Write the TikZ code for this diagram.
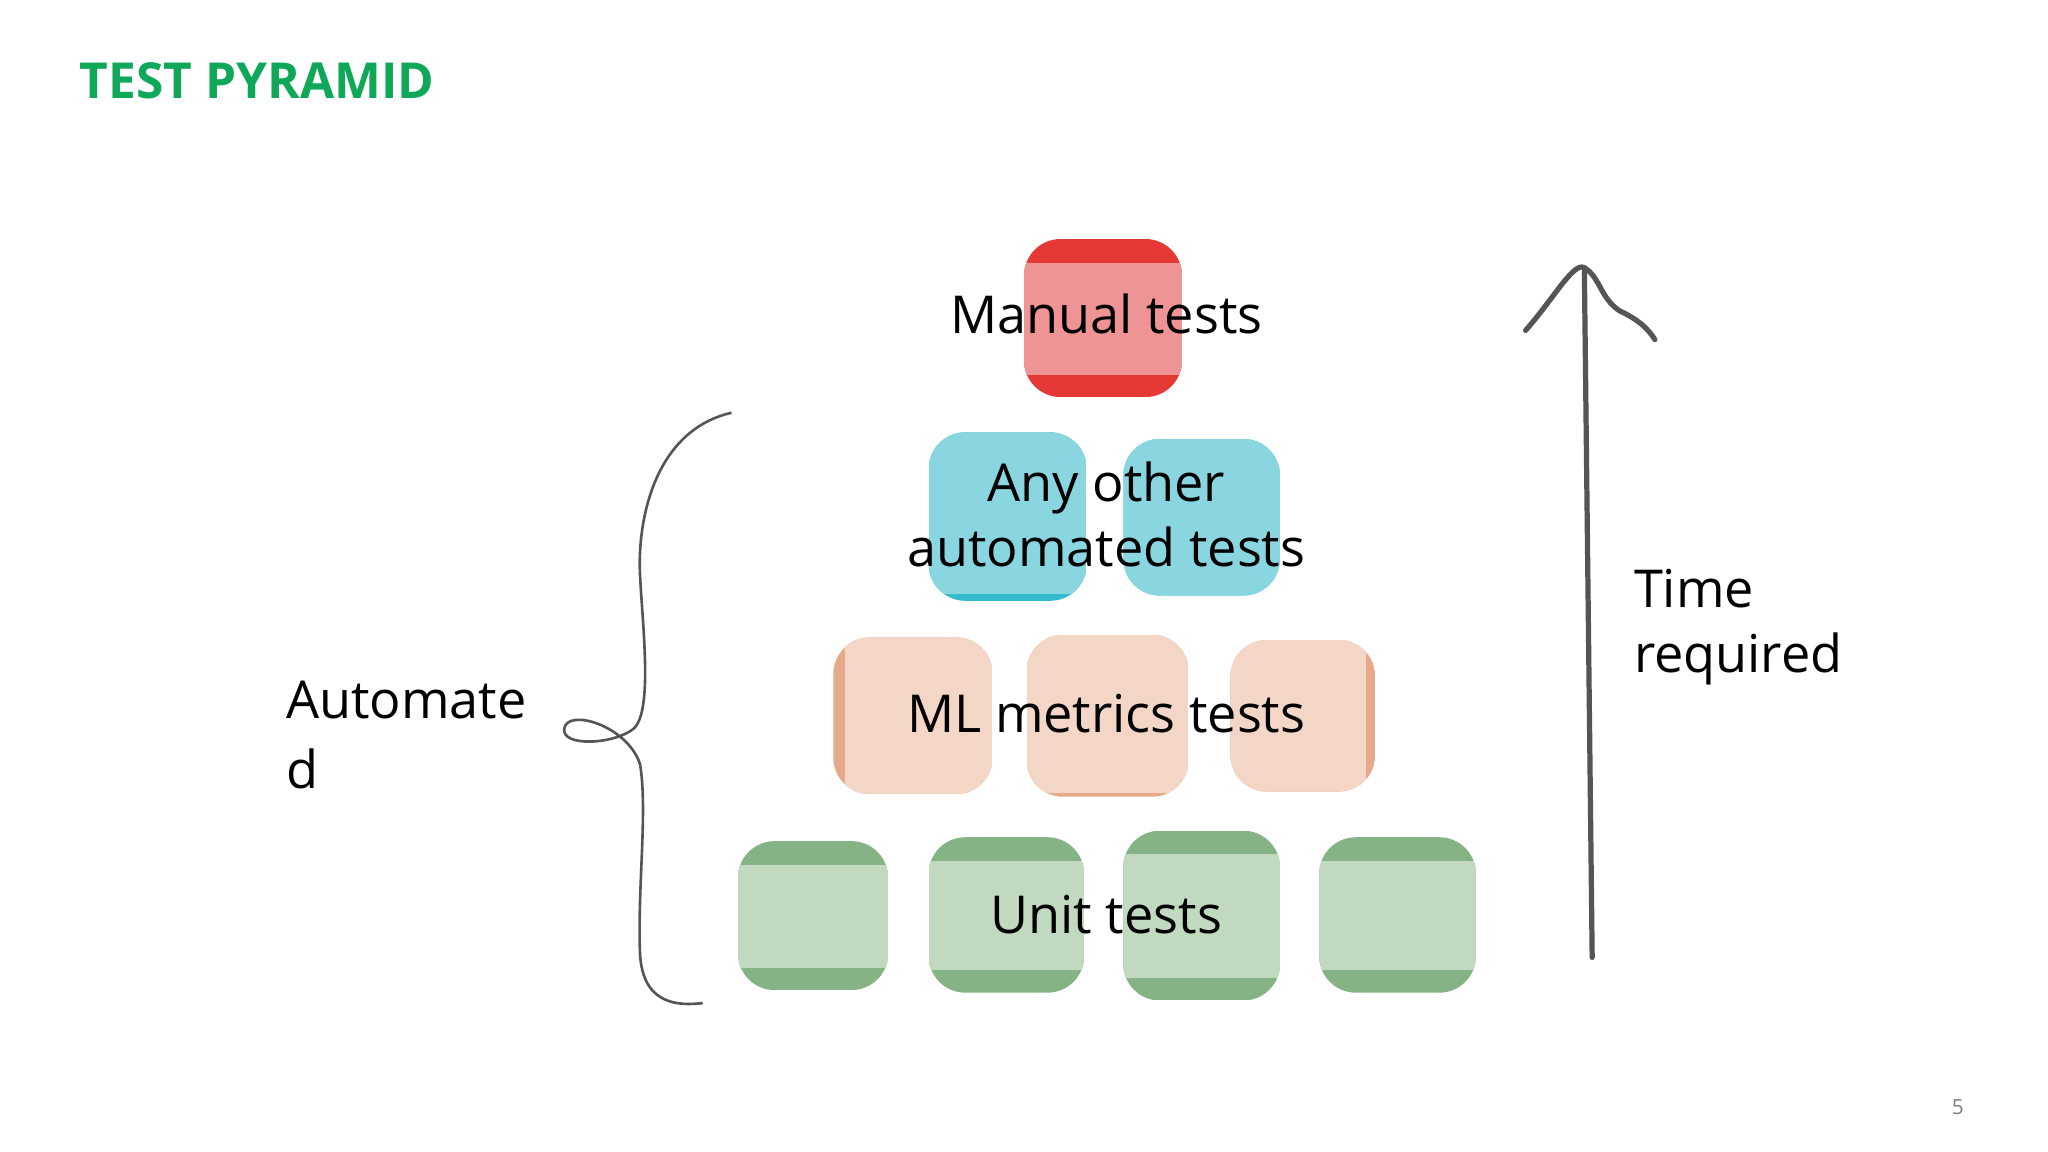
\documentclass[tikz,border=0pt]{standalone}
\usepackage{fontspec}
\setmainfont{Open Sans}
\usetikzlibrary{positioning}
\definecolor{titlegreen}{HTML}{0FA858}
\definecolor{reddark}{HTML}{E53935}
\definecolor{redlight}{HTML}{EE9494}
\definecolor{bluelight}{HTML}{8AD6E0}
\definecolor{bluedark}{HTML}{35BACB}
\definecolor{peachlight}{HTML}{F3D6C6}
\definecolor{peachdark}{HTML}{E6AA8A}
\definecolor{greendark}{HTML}{86B386}
\definecolor{greenlight}{HTML}{C0D9BF}
\definecolor{inkgray}{HTML}{555555}
\newcommand{\stickynote}[6]{% x1 y1 x2 y2 dark light, bands at top and bottom
  \begin{scope}
    \clip[rounded corners=14] (#1,#2) rectangle (#3,#4);
    \fill[#5] (#1,#2) rectangle (#3,#4);
    \fill[#6] (#1,{#2+18}) rectangle (#3,{#4-17});
  \end{scope}}
\newcommand{\plainnote}[7]{% x1 y1 x2 y2 edge fill, lighter part: left right bottom offsets
  \begin{scope}
    \clip[rounded corners=14] (#1,#2) rectangle (#3,#4);
    \fill[#5] (#1,#2) rectangle (#3,#4);
    \fill[#6] #7;
  \end{scope}}
\begin{document}
\begin{tikzpicture}[x=0.5pt,y=-0.5pt,
  label text/.style={font=\fontsize{20}{25}\selectfont,align=center,text=black},
  side text/.style={font=\fontsize{20}{25}\selectfont,align=left,anchor=west,text=black},
  hand line/.style={draw=inkgray,line width=2pt,line cap=round,line join=round}]
\useasboundingbox[fill=white] (0,0) rectangle (1568,882);
\node[anchor=west,font=\fontsize{19}{23}\selectfont\bfseries,text=titlegreen] (title) at (54,62) {TEST PYRAMID};
% top
\stickynote{784}{183}{905}{304}{reddark}{redlight}
% second row
\plainnote{711}{331}{832}{460}{bluedark}{bluelight}{(711,331) rectangle (832,455)}
\plainnote{860}{336}{980}{456}{bluelight}{bluelight}{(860,336) rectangle (980,456)}
% third row
\plainnote{638}{488}{760}{608}{peachdark}{peachlight}{(647,488) rectangle (760,608)}
\plainnote{786}{486}{910}{610}{peachdark}{peachlight}{(786,486) rectangle (910,607)}
\plainnote{942}{490}{1053}{606}{peachdark}{peachlight}{(942,490) rectangle (1046,606)}
% bottom row
\stickynote{565}{644}{680}{758}{greendark}{greenlight}
\stickynote{711}{641}{830}{760}{greendark}{greenlight}
\stickynote{860}{636}{980}{766}{greendark}{greenlight}
\stickynote{1010}{641}{1130}{760}{greendark}{greenlight}
\node[label text] (manual) at (847,240) {Manual tests};
\node[label text] (other) at (847,394) {Any other\\automated tests};
\node[label text] (metrics) at (847,546) {ML metrics tests};
\node[label text] (unit) at (847,700) {Unit tests};
% time arrow
\coordinate (base) at (1219,733);
\coordinate (tip) at (1213,205);
\draw[hand line] (base) -- (tip);
\draw[hand line] (1168,253) .. controls (1190,228) and (1205,200) .. (tip)
  .. controls (1225,212) and (1225,228) .. (1240,238) .. controls (1255,245) and (1262,252) .. (1267,260);
\node[side text] (time) at (1244,480) {Time\\required};
% brace
\coordinate (bracetop) at (560,316);
\coordinate (bracebot) at (538,768);
\draw[inkgray,line width=1pt] (bracetop) .. controls (500,330) and (488,400) .. (490,440)
  .. controls (492,480) and (500,545) .. (485,558)
  .. controls (470,570) and (430,572) .. (432,558)
  .. controls (434,542) and (480,555) .. (490,585)
  .. controls (496,620) and (488,680) .. (490,730)
  .. controls (492,770) and (520,770) .. (bracebot);
\node[side text,anchor=north west,font=\fontsize{20}{27}\selectfont] (auto) at (212,514) {Automate\\d};
\node[text=gray,font=\fontsize{8}{10}\selectfont] (page) at (1499,848) {5};
\end{tikzpicture}
\end{document}
